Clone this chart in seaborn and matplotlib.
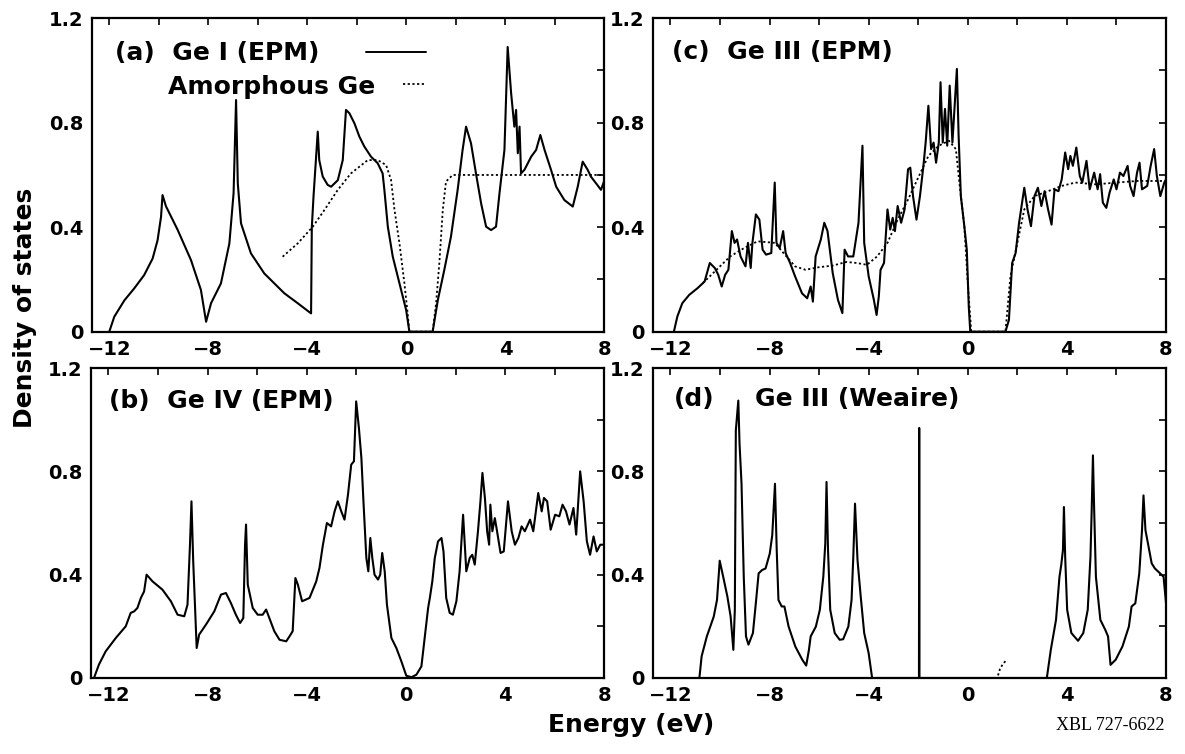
import numpy as np
import pandas as pd
import matplotlib
matplotlib.use("Agg")
import matplotlib.pyplot as plt
import seaborn as sns

# ---- (a) Ge I (EPM), solid; amorphous Ge, dotted
a_solid_e = [-12.0, -11.8, -11.39, -10.99, -10.59, -10.25, -10.05, -9.91, -9.85,
             -9.71, -9.24, -8.70, -8.30, -8.09, -7.89, -7.49, -7.15, -6.98, -6.88,
             -6.81, -6.68, -6.28, -5.74, -4.93, -4.39, -3.85, -3.82, -3.75, -3.58, -3.52,
             -3.38, -3.18, -3.04, -2.77, -2.57, -2.44, -2.30, -2.10, -1.90, -1.70,
             -1.43, -1.16, -0.96, -0.89, -0.75, -0.55, -0.28, -0.01, 0.12, 1.06,
             1.27, 1.53, 1.80, 2.07, 2.27, 2.41, 2.61, 2.81, 3.02, 3.22, 3.42, 3.62,
             3.76, 3.96, 4.09, 4.23, 4.36, 4.43, 4.50, 4.57, 4.63, 4.77, 5.04, 5.24,
             5.41, 5.58, 5.84, 6.05, 6.38, 6.72, 6.92, 7.12, 7.32, 7.45, 7.66, 7.86, 8.0]
a_solid_dos = [0.0, 0.057, 0.12, 0.166, 0.217, 0.28, 0.35, 0.44, 0.523,
               0.48, 0.39, 0.274, 0.16, 0.038, 0.109, 0.185, 0.338, 0.53, 0.887,
               0.568, 0.415, 0.30, 0.223, 0.147, 0.109, 0.07, 0.40, 0.52, 0.766, 0.657,
               0.594, 0.562, 0.555, 0.58, 0.657, 0.849, 0.836, 0.798, 0.747, 0.709,
               0.67, 0.645, 0.606, 0.543, 0.402, 0.287, 0.185, 0.083, 0.0, 0.0,
               0.121, 0.236, 0.364, 0.543, 0.696, 0.785, 0.721, 0.606, 0.49, 0.402, 0.389, 0.402,
               0.53, 0.696, 1.09, 0.913, 0.785, 0.849, 0.683, 0.785, 0.606, 0.62, 0.67, 0.696,
               0.753, 0.696, 0.62, 0.555, 0.504, 0.479, 0.555, 0.651, 0.62, 0.594, 0.568, 0.543, 0.58]
a_dot_e = [-5.0, -4.39, -3.78, -3.31, -2.77, -2.24, -1.56, -1.16, -0.82, -0.62, -0.48,
           -0.28, -0.08, 0.05, 0.12, 1.06, 1.20, 1.33, 1.47, 1.60, 1.87, 4.0, 6.0, 8.0]
a_dot_dos = [0.287, 0.338, 0.402, 0.466, 0.543, 0.606, 0.657, 0.657, 0.638, 0.581, 0.466,
             0.338, 0.185, 0.07, 0.0, 0.0, 0.109, 0.262, 0.466, 0.575, 0.60, 0.60, 0.60, 0.60]

# ---- (b) Ge IV (EPM)
b_e = [-12.58, -12.38, -12.11, -11.70, -11.30, -11.10, -10.96, -10.83, -10.69, -10.56,
       -10.46, -10.22, -9.82, -9.48, -9.21, -8.94, -8.81, -8.71, -8.65, -8.58, -8.44,
       -8.34, -8.07, -7.73, -7.46, -7.26, -7.06, -6.86, -6.69, -6.56, -6.49, -6.45,
       -6.38, -6.18, -5.98, -5.78, -5.64, -5.51, -5.31, -5.10, -4.83, -4.70, -4.57,
       -4.46, -4.36, -4.19, -3.89, -3.62, -3.49, -3.35, -3.19, -3.02, -2.88, -2.75,
       -2.61, -2.48, -2.34, -2.21, -2.10, -2.01, -1.90, -1.80, -1.71, -1.60, -1.52,
       -1.44, -1.36, -1.27, -1.13, -1.04, -0.96, -0.86, -0.77, -0.59, -0.39, -0.19,
       0.01, 0.22, 0.42, 0.62, 0.75, 0.89, 0.96, 1.06, 1.16, 1.29, 1.43, 1.51, 1.62,
       1.76, 1.89, 2.03, 2.16, 2.30, 2.43, 2.57, 2.67, 2.77, 2.90, 3.00, 3.08, 3.18,
       3.27, 3.35, 3.40, 3.48, 3.58, 3.67, 3.81, 3.94, 4.11, 4.26, 4.39, 4.53, 4.66,
       4.79, 5.00, 5.13, 5.33, 5.47, 5.56, 5.69, 5.83, 6.01, 6.18, 6.31, 6.45, 6.59,
       6.75, 6.86, 7.02, 7.16, 7.29, 7.42, 7.56, 7.69, 7.83, 8.0]
b_dos = [0.0, 0.052, 0.103, 0.155, 0.2, 0.252, 0.258, 0.271, 0.31, 0.335,
         0.40, 0.374, 0.342, 0.297, 0.245, 0.239, 0.284, 0.516, 0.684, 0.452, 0.116,
         0.168, 0.206, 0.258, 0.323, 0.329, 0.29, 0.245, 0.213, 0.232, 0.516, 0.594,
         0.361, 0.271, 0.245, 0.245, 0.265, 0.232, 0.181, 0.148, 0.142, 0.161, 0.181,
         0.387, 0.361, 0.297, 0.31, 0.374, 0.426, 0.516, 0.60, 0.587, 0.645, 0.684,
         0.645, 0.613, 0.71, 0.826, 0.839, 1.071, 0.968, 0.852, 0.671, 0.465, 0.413,
         0.542, 0.465, 0.40, 0.381, 0.40, 0.484, 0.413, 0.284, 0.155, 0.116, 0.065,
         0.009, 0.003, 0.013, 0.045, 0.155, 0.271, 0.31, 0.374, 0.465, 0.529, 0.542, 0.49, 0.31,
         0.252, 0.245, 0.297, 0.413, 0.632, 0.413, 0.465, 0.477, 0.439, 0.568, 0.684, 0.794, 0.697,
         0.568, 0.516, 0.671, 0.568, 0.619, 0.568, 0.484, 0.49, 0.684, 0.568, 0.516, 0.542, 0.587,
         0.568, 0.613, 0.568, 0.716, 0.645, 0.697, 0.684, 0.574, 0.632, 0.626, 0.671, 0.645, 0.594,
         0.658, 0.555, 0.80, 0.684, 0.529, 0.477, 0.548, 0.49, 0.516, 0.516]

# ---- (c) Ge III (EPM), solid; amorphous Ge, dotted
c_solid_e = [-11.86, -11.72, -11.52, -11.24, -10.90, -10.62, -10.41, -10.21, -10.07, -9.93,
             -9.79, -9.66, -9.52, -9.41, -9.31, -9.17, -8.97, -8.87, -8.76, -8.69, -8.55,
             -8.41, -8.28, -8.14, -7.93, -7.79, -7.72, -7.59, -7.45, -7.35, -7.17, -6.97,
             -6.69, -6.48, -6.34, -6.25, -6.14, -5.93, -5.79, -5.66, -5.45, -5.24, -5.06,
             -4.97, -4.83, -4.62, -4.41, -4.25, -4.18, -4.00, -3.79, -3.68, -3.59, -3.52,
             -3.38, -3.24, -3.13, -3.03, -2.94, -2.83, -2.69, -2.55, -2.41, -2.32, -2.21,
             -2.07, -1.93, -1.79, -1.70, -1.59, -1.48, -1.38, -1.28, -1.17, -1.10, -1.01,
             -0.92, -0.83, -0.73, -0.62, -0.52, -0.44, -0.37, -0.28, -0.14, -0.04, 0.04,
             0.10, 1.52, 1.66, 1.79, 1.93, 2.07, 2.28, 2.41, 2.55, 2.69, 2.83, 2.97, 3.10,
             3.24, 3.38, 3.50, 3.66, 3.79, 3.93, 4.05, 4.14, 4.24, 4.38, 4.52, 4.62, 4.79,
             4.92, 5.10, 5.24, 5.34, 5.45, 5.59, 5.72, 5.89, 6.00, 6.14, 6.28, 6.45, 6.55,
             6.69, 6.83, 6.93, 7.03, 7.24, 7.38, 7.52, 7.63, 7.77, 7.93, 8.0]
c_solid_dos = [0.0, 0.058, 0.109, 0.141, 0.167, 0.192, 0.263, 0.244, 0.218, 0.173,
               0.218, 0.237, 0.385, 0.34, 0.353, 0.288, 0.25, 0.34, 0.244, 0.34, 0.449,
               0.429, 0.314, 0.295, 0.301, 0.571, 0.34, 0.32, 0.385, 0.301, 0.263, 0.212,
               0.147, 0.128, 0.173, 0.115, 0.288, 0.353, 0.417, 0.385, 0.224, 0.122, 0.071,
               0.314, 0.288, 0.288, 0.417, 0.712, 0.34, 0.212, 0.122, 0.064, 0.135, 0.237,
               0.263, 0.468, 0.391, 0.436, 0.385, 0.481, 0.417, 0.468, 0.622, 0.628, 0.519,
               0.429, 0.519, 0.635, 0.724, 0.865, 0.699, 0.724, 0.647, 0.724, 0.955, 0.724,
               0.853, 0.712, 0.942, 0.724, 0.878, 1.006, 0.75, 0.519, 0.404, 0.314, 0.096,
               0.0, 0.0, 0.045, 0.263, 0.301, 0.417, 0.551, 0.468, 0.404, 0.519, 0.551, 0.481, 0.538,
               0.468, 0.41, 0.545, 0.538, 0.583, 0.686, 0.622, 0.673, 0.635, 0.705, 0.596, 0.571, 0.654,
               0.545, 0.609, 0.545, 0.603, 0.494, 0.474, 0.532, 0.583, 0.545, 0.609, 0.596, 0.635, 0.558,
               0.519, 0.609, 0.647, 0.545, 0.558, 0.635, 0.699, 0.596, 0.519, 0.571, 0.583]
c_dot_e = [-10.69, -10.14, -9.59, -9.03, -8.48, -7.79, -7.38, -6.97, -6.55, -6.00, -5.45,
           -4.90, -4.48, -4.07, -3.66, -3.24, -2.83, -2.41, -2.00, -1.59, -1.17, -0.76,
           -0.48, -0.34, -0.14, 0.0, 0.14, 1.52, 1.72, 2.00, 2.28, 2.69, 3.24, 3.79,
           4.34, 5.17, 6.00, 6.83, 7.66, 8.0]
c_dot_dos = [0.186, 0.237, 0.288, 0.32, 0.346, 0.34, 0.295, 0.25, 0.237, 0.247, 0.253,
             0.267, 0.263, 0.256, 0.288, 0.34, 0.429, 0.506, 0.59, 0.673, 0.712, 0.731,
             0.699, 0.571, 0.404, 0.186, 0.0, 0.0, 0.212, 0.34, 0.468, 0.519, 0.538, 0.558,
             0.571, 0.564, 0.571, 0.577, 0.577, 0.577]

# ---- (d) Ge III (Weaire)
d_e = [-10.83, -10.74, -10.53, -10.25, -10.12, -10.01, -9.87, -9.70, -9.57, -9.46, -9.40,
       -9.36, -9.26, -9.21, -9.13, -9.04, -8.95, -8.85, -8.67, -8.54, -8.44, -8.30, -8.16,
       -7.99, -7.89, -7.78, -7.71, -7.64, -7.51, -7.40, -7.23, -6.96, -6.68, -6.52, -6.41,
       -6.34, -6.13, -5.97, -5.83, -5.75, -5.70, -5.64, -5.55, -5.37, -5.17, -5.03, -4.82,
       -4.69, -4.62, -4.55, -4.45, -4.32, -4.18, -4.00, -3.86, -1.97, -1.96, -1.95, 3.19,
       3.35, 3.56, 3.70, 3.77, 3.84, 3.88, 3.93, 4.01, 4.18, 4.45, 4.66, 4.84, 4.95, 5.00,
       5.05, 5.10, 5.17, 5.35, 5.55, 5.66, 5.76, 5.97, 6.24, 6.50, 6.61, 6.76, 6.92, 7.03,
       7.09, 7.17, 7.27, 7.42, 7.55, 7.76, 7.90, 8.0]
d_dos = [0.0, 0.084, 0.161, 0.238, 0.302, 0.454, 0.392, 0.315, 0.238, 0.109, 0.264,
         0.958, 1.074, 0.907, 0.752, 0.392, 0.161, 0.129, 0.174, 0.302, 0.405, 0.418, 0.424,
         0.482, 0.553, 0.752, 0.495, 0.302, 0.277, 0.277, 0.199, 0.122, 0.071, 0.048, 0.109,
         0.161, 0.199, 0.264, 0.392, 0.521, 0.759, 0.495, 0.264, 0.174, 0.148, 0.15, 0.199,
         0.302, 0.469, 0.675, 0.457, 0.315, 0.174, 0.096, 0.0, 0.0, 0.968, 0.0, 0.0,
         0.109, 0.225, 0.392, 0.437, 0.495, 0.662, 0.469, 0.264, 0.174, 0.144, 0.174, 0.264, 0.469, 0.65,
         0.862, 0.65, 0.392, 0.225, 0.186, 0.161, 0.051, 0.071, 0.122, 0.199, 0.277, 0.289, 0.405, 0.572,
         0.707, 0.572, 0.521, 0.444, 0.424, 0.405, 0.392, 0.289]
d_dot_e = [1.22, 1.30, 1.42, 1.57]
d_dot_dos = [0.01, 0.035, 0.055, 0.07]

x_ticks = [-12, -10, -8, -6, -4, -2, 0, 2, 4, 6, 8]
x_labels = ["\u221212", "", "\u22128", "", "\u22124", "", "0", "", "4", "", "8"]
y_ticks = [0, 0.2, 0.4, 0.6, 0.8, 1.0, 1.2]
y_labels = ["0", "", "0.4", "", "0.8", "", "1.2"]

sns.set_style("white")
plt.rcParams["font.family"] = ["DejaVu Sans"]
plt.rcParams["font.weight"] = "bold"
plt.rcParams["text.color"] = "black"
plt.rcParams["axes.labelcolor"] = "black"

fig = plt.figure(figsize=(11.85, 7.54), dpi=100)
boxes = {
    "a": [0.0776, 0.5601, 0.4325, 0.4157],
    "c": [0.5511, 0.5601, 0.4329, 0.4157],
    "b": [0.0768, 0.1008, 0.4333, 0.4111],
    "d": [0.5511, 0.1008, 0.4329, 0.4111],
}
axes = {k: fig.add_axes(v) for k, v in boxes.items()}

solid_kw = dict(color="black", linewidth=1.5, sort=False, estimator=None)
dot_kw = dict(color="black", linewidth=1.3, sort=False, estimator=None,
              linestyle=(0, (1.2, 1.4)))

sns.lineplot(x=a_solid_e, y=a_solid_dos, ax=axes["a"], **solid_kw)
sns.lineplot(x=a_dot_e, y=a_dot_dos, ax=axes["a"], **dot_kw)
sns.lineplot(x=b_e, y=b_dos, ax=axes["b"], **solid_kw)
sns.lineplot(x=c_solid_e, y=c_solid_dos, ax=axes["c"], **solid_kw)
sns.lineplot(x=c_dot_e, y=c_dot_dos, ax=axes["c"], **dot_kw)
sns.lineplot(x=d_e, y=d_dos, ax=axes["d"], **solid_kw)
sns.lineplot(x=d_dot_e, y=d_dot_dos, ax=axes["d"], **dot_kw)

for ax in axes.values():
    ax.set_xlim(-12.7, 8.0)
    ax.set_ylim(0, 1.2)
    ax.set_xticks(x_ticks)
    ax.set_xticklabels(x_labels)
    ax.set_yticks(y_ticks)
    ax.set_yticklabels(y_labels)
    ax.tick_params(direction="in", length=5, width=1.2, top=True, right=True,
                   labelsize=14, pad=6, colors="black")
    ax.set_xlabel("")
    ax.set_ylabel("")
    for sp in ax.spines.values():
        sp.set_visible(True)
        sp.set_color("black")
        sp.set_linewidth(1.6)
    for lab in ax.get_xticklabels() + ax.get_yticklabels():
        lab.set_fontweight("bold")

title_kw = dict(fontsize=18, fontweight="bold", va="center", ha="left", color="black")
axes["a"].text(0.044, 0.888, "(a)  Ge I (EPM)", transform=axes["a"].transAxes, **title_kw)
axes["a"].text(0.148, 0.782, "Amorphous Ge", transform=axes["a"].transAxes, **title_kw)
axes["a"].plot([0.535, 0.652], [0.893, 0.893], color="black", lw=1.4,
               transform=axes["a"].transAxes)
axes["a"].plot([0.606, 0.652], [0.79, 0.79], color="black", lw=1.3,
               linestyle=(0, (1.2, 1.4)), transform=axes["a"].transAxes)
axes["b"].text(0.035, 0.893, "(b)  Ge IV (EPM)", transform=axes["b"].transAxes, **title_kw)
axes["c"].text(0.037, 0.892, "(c)  Ge III (EPM)", transform=axes["c"].transAxes, **title_kw)
axes["d"].text(0.04, 0.90, "(d)", transform=axes["d"].transAxes, **title_kw)
axes["d"].text(0.198, 0.90, "Ge III (Weaire)", transform=axes["d"].transAxes, **title_kw)

fig.text(0.021, 1 - 308 / 754, "Density of states", rotation=90, ha="center", va="center",
         fontsize=18, fontweight="bold", color="black")
fig.text(0.533, 0.038, "Energy (eV)", ha="center", va="center", fontsize=18,
         fontweight="bold", color="black")
fig.text(0.983, 0.038, "XBL 727-6622", ha="right", va="center", fontsize=13,
         fontweight="normal", color="black", family=["Liberation Serif", "DejaVu Serif"])

fig.savefig("out.png", dpi=100, facecolor="white")
